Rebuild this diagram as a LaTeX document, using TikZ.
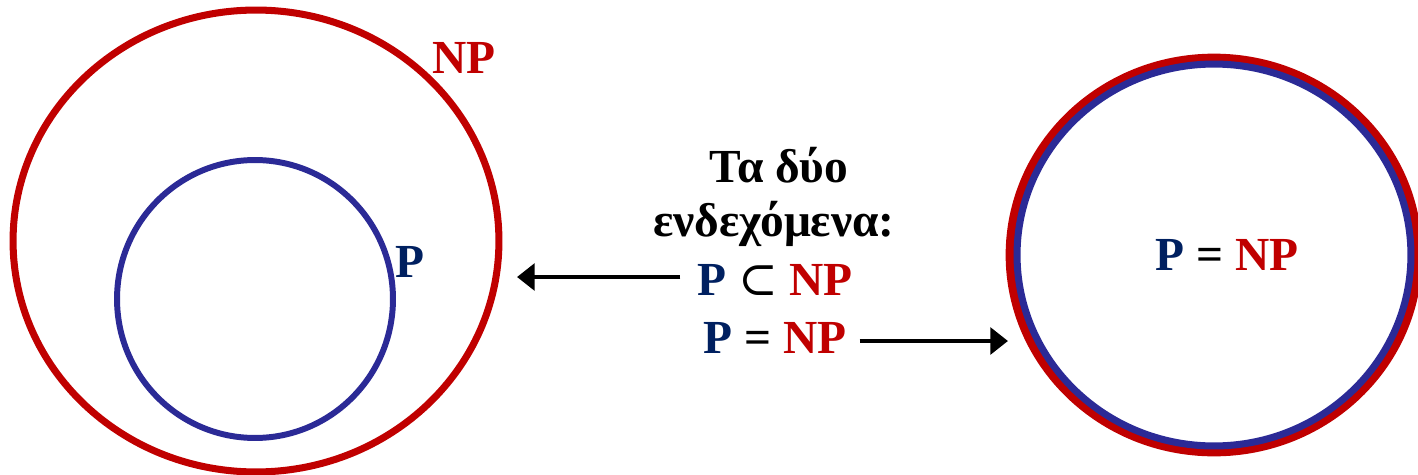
\documentclass[tikz,border=0pt]{standalone}
\usepackage{fontspec}
\setmainfont{Liberation Serif}
\newfontfamily\symfont{DejaVu Serif}
\usepackage{tikz}
\usetikzlibrary{shapes.geometric, arrows.meta, positioning}
\definecolor{npred}{HTML}{C00000}
\definecolor{pnavy}{HTML}{002060}
\definecolor{pblue}{HTML}{2B2A96}

\begin{document}
\begin{tikzpicture}[
  x=0.02cm, y=-0.02cm,
  set/.style={ellipse, draw, inner sep=0pt, outer sep=0pt},
  npset/.style={set, draw=npred, line width=4pt},
  pset/.style={set, draw=pblue, line width=3.4pt},
  lbl/.style={font=\fontsize{27}{32}\selectfont\bfseries},
  arr/.style={-{Triangle[length=10pt, width=15pt]}, line width=2.8pt},
]
  \useasboundingbox (0,0) rectangle (1418,474);

  % P inside NP
  \node[npset, minimum width=9.72cm, minimum height=9.24cm] (np) at (256,241) {};
  \node[pset, minimum width=5.52cm, minimum height=5.56cm] (p) at (255,299) {};
  \node[lbl, text=npred] (nplbl) at (464,58) {NP};
  \node[lbl, text=pnavy] (plbl) at (410,262) {P};

  % P equals NP
  \node[npset, line width=5pt, minimum width=8.16cm, minimum height=7.88cm] (npeq) at (1214,255) {};
  \node[pset, line width=4pt, minimum width=7.88cm, minimum height=7.64cm] (peq) at (1214,255) {};
  \node[lbl] (eqlbl) at (1227,255) {\textcolor{pnavy}{P} = \textcolor{npred}{NP}};

  % the two cases
  \node[lbl] (title) at (779,165) {Τα δύο};
  \node[lbl] (cases) at (774,224) {ενδεχόμενα:};
  \node[lbl] (sub) at (775,280) {\textcolor{pnavy}{P} {\symfont\mdseries ⊂} \textcolor{npred}{NP}};
  \node[lbl] (eq) at (775,338) {\textcolor{pnavy}{P} = \textcolor{npred}{NP}};

  \coordinate (subtip) at (517,277);
  \coordinate (eqtip) at (1008,341);

  \draw[arr] ([xshift=-6pt]sub.west |- subtip) -- (subtip);
  \draw[arr] ([xshift=4pt]eq.east |- eqtip) -- (eqtip);

\end{tikzpicture}
\end{document}
